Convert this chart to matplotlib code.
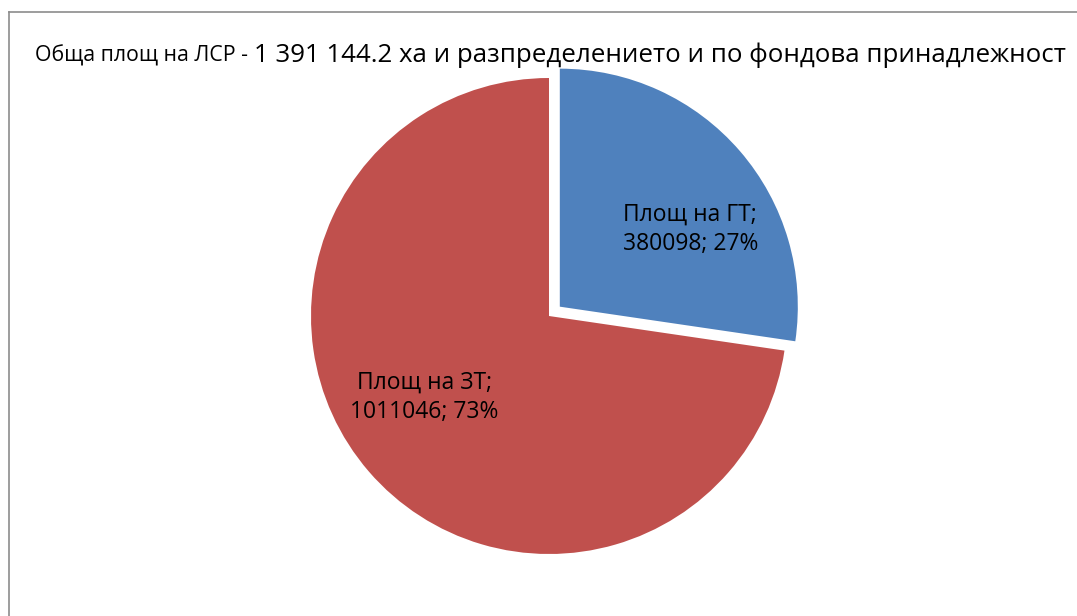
import matplotlib
matplotlib.use('Agg')
import matplotlib.pyplot as plt
import numpy as np
from matplotlib.lines import Line2D


# DATA #
categories = ['Площ на ГТ', 'Площ на ЗТ']
areas = [380098, 1011046]
colors = ['#4F81BD', '#C0504D']
explode_frac = [0.06, 0]
title_small = 'Обща площ на ЛСР - '
title_large = '1 391 144.2 ха и разпределението и по фондова принадлежност'


# FIGURE #
plt.rcParams['font.family'] = ['Open Sans', 'DejaVu Sans']
W, H = 1077, 616
fig = plt.figure(figsize=(W/100, H/100), dpi=100)
ax = fig.add_axes([0, 0, 1, 1])

R = 238
cx, cy = 549, H - 316
wedges, _ = ax.pie(areas, colors=colors, startangle=90, counterclock=False,
                   explode=[e*R for e in explode_frac], radius=R, center=(cx, cy),
                   wedgeprops=dict(linewidth=0))
ax.set_xlim(0, W)
ax.set_ylim(0, H)
ax.axis('off')

# data labels (Excel style: name; value; percent)
total = sum(areas)
for w, cat, val in zip(wedges, categories, areas):
    mid = np.deg2rad((w.theta1 + w.theta2)/2 - 9)
    x = w.center[0] + 0.63*w.r*np.cos(mid)
    y = w.center[1] + 0.63*w.r*np.sin(mid)
    ax.text(x + 3, y - 2, f'{cat};\n{val}; {round(100*val/total)}%', ha='center', va='center',
            fontsize=16.5, linespacing=1.3)

# chart border (top and left edges visible)
fig.add_artist(Line2D([9/W, 1], [1 - 11.5/H, 1 - 11.5/H], color='#8c8c8c', lw=1.2))
fig.add_artist(Line2D([9/W, 9/W], [0, 1 - 11.5/H], color='#8c8c8c', lw=1.2))

# title in two sizes
t1 = fig.text(35/W, 1 - 62/H, title_small, fontsize=15.3, va='baseline')
fig.canvas.draw()
bb = t1.get_window_extent()
fig.text(bb.x1/W, 1 - 62/H, title_large, fontsize=18.6, va='baseline')

fig.savefig('out.png', dpi=100)
